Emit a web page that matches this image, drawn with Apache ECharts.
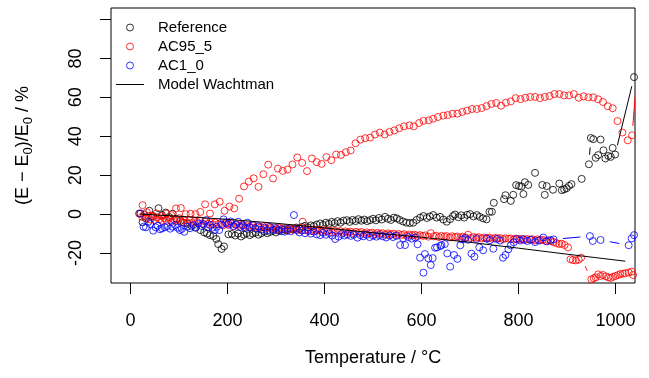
<!DOCTYPE html>
<html lang="en">
  <head>
    <meta charset="UTF-8" />
    <title>E modulus vs temperature</title>
    <style>
      html, body { margin: 0; padding: 0; background: #fff; }
      #main { width: 649px; height: 378px; }
    </style>
  </head>
  <body>
    <div id="main"></div>
    <script src="https://cdn.jsdelivr.net/npm/echarts@6/dist/echarts.min.js"></script>
    <script>
      // [temperature °C, (E-E0)/E0 %]
      const refPts = [
        [18, 0.3], [25, -4.2], [31, -2], [39, 1.7], [47, -1], [58, 3], [65, -0.5], [73, 0.8], [80, -1.5], [87, 0.2],
        [95, -2.5], [103, -3.5], [110, -4.5], [118, -5], [126, -6], [134, -7], [144, -8.2], [152, -9.4], [158, -10],
        [164, -10.8], [171, -11.3], [177, -12.8], [181, -15.4], [188, -17.9], [193, -16.6], [202, -10.4], [209, -10.2],
        [216, -11], [222, -10], [228, -11.5], [234, -10.6], [240, -9.8], [246, -10.8], [252, -10], [258, -9.5],
        [264, -10.6], [270, -9.8], [276, -9], [282, -9.8], [288, -9.2], [294, -8.6], [300, -9.4], [306, -8.2],
        [312, -8.8], [318, -7.8], [324, -8.4], [330, -7.4], [336, -7.9], [342, -6.9], [348, -7.5], [354, -6.6],
        [360, -6], [366, -6.8], [372, -5.8], [378, -6.2], [384, -5.4], [391, -4.8], [397, -5.6], [403, -4.4],
        [409, -5], [415, -4], [421, -4.6], [427, -3.6], [433, -4.4], [439, -3.4], [446, -3.1], [452, -4], [458, -3],
        [464, -3.6], [470, -2.6], [476, -3.4], [482, -2.8], [488, -3.6], [494, -3.1], [500, -2.4], [506, -3.2],
        [512, -2], [518, -2.8], [525, -1.4], [531, -2.4], [537, -3], [543, -1.8], [549, -2.2], [555, -3], [562, -3.8],
        [569, -4.4], [576, -4.6], [583, -4.4], [590, -3], [597, -1.8], [604, -1], [611, -2], [617, -1.2], [624, -0.5],
        [631, -1.8], [638, -1.4], [645, -2.8], [652, -3.9], [659, -2.6], [665, -1], [669, -0.2], [676, -1.6],
        [682, -0.6], [688, -1.8], [694, -0.4], [700, 0], [707, -1.2], [714, -0.5], [720, -1.4], [727, -2.2],
        [734, -2.7], [740, 1.2], [745, 1.2], [749, 5.8], [770, 7.7], [773, 9.7], [784, 6.8], [789, 9.9], [795, 14.9],
        [801, 14.4], [806, 14.2], [810, 10.3], [813, 16.4], [820, 15], [834, 21.2], [849, 15], [854, 9.9], [858, 14.4],
        [871, 12.5], [884, 15.7], [889, 12.3], [894, 12.7], [899, 13.3], [904, 14.5], [909, 15.4], [930, 18.1],
        [945, 25.6], [949, 39.1], [954, 38.5], [959, 28.9], [964, 30.3], [969, 38.3], [975, 32.8], [979, 28.6],
        [985, 29.9], [990, 29.4], [994, 34], [999, 30.6], [1038, 70.4]
      ];

      // AC95_5, heating run
      const ac95Heat = [
        [20, 0.3], [24, -1.4], [28, -0.2], [33, -2.3], [37, -0.9], [41, -2.8], [46, -1.5], [50, -3.1], [55, -1.7],
        [60, -2.6], [65, -3.4], [70, -2], [75, -3.5], [80, -2.3], [85, -3.9], [90, -2.8], [96, -3.3], [101, -2.1],
        [106, -4], [111, -3.1], [117, -4.3], [122, -3], [127, -4.6], [132, -3.6], [138, -4.1], [143, -3.2],
        [148, -4.8], [154, -3.9], [159, -5.1], [164, -4.2], [170, -5.4], [175, -4.4], [181, -5.2], [186, -4.6],
        [191, -5.8], [197, -4.9], [202, -5.6], [208, -5], [213, -6.2], [219, -5.3], [224, -6], [230, -5.5],
        [235, -6.6], [241, -5.8], [246, -6.4], [252, -5.9], [257, -7], [263, -6.1], [268, -6.9], [274, -6.3],
        [279, -7.4], [285, -6.6], [290, -7.2], [296, -6.8], [301, -7.8], [307, -7], [312, -7.6], [318, -7.1],
        [323, -8.1], [329, -7.3], [334, -7.9], [340, -7.5], [345, -8.4], [350, -7.6], [355, -3.9], [361, -8.2],
        [366, -7.8], [372, -8.7], [377, -8], [383, -8.5], [388, -8.1], [394, -9], [399, -8.3], [405, -8.8],
        [410, -8.4], [416, -9.3], [421, -8.6], [427, -9.1], [432, -8.7], [438, -9.6], [443, -8.9], [449, -9.4],
        [454, -9], [460, -9.8], [465, -9.1], [471, -9.6], [476, -9.2], [482, -10.1], [487, -9.4], [493, -9.9],
        [498, -9.5], [504, -10.3], [509, -9.6], [515, -10.1], [520, -9.8], [526, -10.6], [531, -9.9], [537, -10.4],
        [542, -10], [548, -10.8], [553, -10.2], [559, -10.7], [564, -10.3], [570, -11.1], [575, -10.5],
        [581, -10.9], [586, -10.6], [592, -11.3], [597, -10.8], [603, -11.2], [608, -10.9], [614, -11.6],
        [619, -9.8], [625, -11.4], [630, -11.1], [636, -11.8], [641, -11.2], [647, -11.6], [652, -11.3],
        [658, -12], [663, -11.4], [669, -11.8], [674, -11.5], [680, -12.2], [685, -11.6], [691, -12],
        [696, -10.6], [702, -12.3], [707, -11.8], [713, -12.1], [718, -11.9], [724, -12.5], [729, -12],
        [735, -12.3], [740, -12.1], [746, -12.7], [751, -12.2], [757, -12.5], [762, -12.3], [768, -12.9],
        [773, -12.4], [779, -12.7], [784, -12.5], [790, -13.1], [795, -12.6], [801, -12.9], [806, -12.7],
        [812, -13.3], [817, -12.8], [823, -13.1], [828, -12.9], [834, -13.5], [839, -13], [845, -13.4],
        [850, -13.2], [856, -13.8], [861, -13.4], [867, -13.9], [872, -14.4], [878, -14.9], [884, -15.4],
        [889, -15.2], [895, -15.9], [902, -17.1], [907, -23.2], [912, -23.6], [918, -23.8], [924, -23.4],
        [929, -22.4], [950, -33.5], [955, -33], [959, -32.5], [964, -31], [969, -31.8], [974, -31.3], [980, -32],
        [985, -32.5], [990, -32.8], [995, -32.2], [1000, -31.8], [1005, -31.3], [1010, -30.8], [1015, -30.6],
        [1020, -30.4], [1027, -30], [1033, -29.6], [1036, -31.3]
      ];

      // AC95_5, cooling run
      const ac95Cool = [
        [1044, 72], [1034, 40.5], [1025, 37.9], [1014, 41.9], [1004, 47.8], [994, 54.4], [984, 55.4], [974, 57.6],
        [964, 59], [954, 60], [944, 60], [934, 60.5], [924, 59.8], [914, 61.7], [904, 61], [894, 61], [884, 61.7],
        [874, 61.7], [864, 60.7], [854, 60.2], [844, 59.6], [834, 60.2], [824, 60.2], [814, 59.8], [804, 59.1],
        [794, 59.6], [784, 57.9], [774, 57.3], [764, 55.7], [754, 57.1], [744, 56.6], [734, 55.5], [724, 54.5],
        [714, 54], [704, 54], [694, 53.2], [684, 52.5], [674, 51.6], [664, 51.6], [654, 50.9], [645, 50.6],
        [634, 49.9], [624, 49], [615, 48.2], [604, 47.9], [595, 46.8], [584, 45.1], [575, 45.6], [564, 45.1],
        [554, 44.1], [544, 43], [534, 42.2], [524, 40.9], [514, 41.9], [504, 40.9], [494, 39.3], [484, 39],
        [474, 38.3], [464, 36.4], [454, 32.7], [444, 31.8], [434, 30.4], [424, 30.6], [414, 27.7], [404, 29.3],
        [394, 25.8], [384, 26.7], [374, 28.6], [364, 22.1], [354, 26.3], [344, 29.1], [334, 25.5], [324, 22.9],
        [314, 22.2], [304, 23.4], [294, 18.3], [284, 25.4], [274, 20.5], [264, 14], [254, 18.4], [244, 16.7],
        [234, 14.2], [224, 7.9], [214, 2.9], [204, 3.9], [194, 1.7], [184, 6.4], [174, 5], [164, 0.3], [154, 5],
        [144, 1.1], [134, 0], [124, 0.2], [114, 0], [104, 3.1], [94, 2.9], [84, -0.5], [74, 0.2], [64, -1],
        [54, 0.4], [44, -0.8], [34, 1], [25, 4.6]
      ];

      const ac1Pts = [
        [21, 0.3], [27, -6.5], [32, -6.8], [37, -4], [41, -5.1], [47, -8.5], [52, -6.8], [56, -6], [61, -7.8],
        [65, -7.3], [71, -6.8], [76, -6.2], [82, -7.5], [87, -6.5], [92, -5.6], [97, -7], [102, -8.2], [106, -7.6],
        [111, -9.1], [117, -6.5], [123, -7.2], [130, -5.6], [135, -6.8], [140, -4.8], [146, -6], [151, -5.2],
        [156, -3.1], [160, -6.8], [164, -5.6], [169, -7], [174, -8.2], [178, -6.5], [183, -8.2], [188, -5.4],
        [192, -2.7], [197, -4.2], [202, -5], [207, -3.8], [212, -6.2], [217, -5.4], [222, -3.9], [227, -6.6],
        [232, -5.8], [237, -7.2], [241, -4.4], [246, -6.8], [253, -5.6], [258, -7.4], [264, -6.4], [270, -8],
        [276, -7], [282, -8.4], [288, -6.6], [294, -8], [300, -7.2], [306, -8.6], [312, -7.8], [318, -9],
        [324, -7.6], [330, -8.8], [337, -0.5], [342, -8], [348, -9.4], [354, -8.4], [360, -9.8], [366, -8.6],
        [372, -10], [378, -9], [384, -10.4], [391, -10.8], [397, -9.6], [403, -10.6], [410, -9.8], [416, -11],
        [422, -12.8], [429, -11.6], [435, -10.2], [441, -11], [447, -10.4], [454, -11.2], [460, -10.6],
        [468, -12.1], [474, -10.8], [480, -11.4], [487, -10.6], [493, -11.8], [500, -11], [507, -11.6],
        [513, -10.8], [520, -11.4], [527, -12], [534, -11], [541, -11.8], [548, -11.2], [556, -15.9], [562, -12.4],
        [566, -15.9], [573, -11.8], [580, -12.6], [587, -12], [592, -15.5], [597, -22.4], [604, -30.1],
        [607, -20.5], [614, -22.7], [619, -26.2], [623, -22.6], [628, -17.3], [632, -17.1], [639, -16.4],
        [641, -15.9], [648, -15.4], [653, -20.2], [659, -27], [667, -21], [674, -23], [680, -16], [684, -13],
        [690, -12.4], [696, -13.2], [703, -20.3], [709, -21.9], [713, -12.8], [719, -17.1], [727, -18.6],
        [734, -12.6], [741, -13.4], [748, -17.8], [755, -12.8], [762, -13.6], [768, -22.4], [773, -21],
        [779, -18.1], [784, -16.1], [790, -14.5], [796, -12.8], [803, -13.6], [810, -12.9], [818, -13.8],
        [826, -13.2], [834, -14.4], [842, -13.6], [851, -12], [858, -14], [866, -13.4], [872, -13], [947, -11.3],
        [953, -13.8], [969, -13.3], [1027, -16], [1033, -12.5], [1038, -10.8]
      ];

      const modelPts = [
        [20, 0], [100, -1.1], [200, -2.7], [300, -4.7], [400, -7.1], [500, -9.6], [600, -11.9],
        [700, -14.5], [800, -17.5], [900, -20.6], [1020, -24.2]
      ];

      const xTicks = [0, 200, 400, 600, 800, 1000];
      const yTicks = [-20, 0, 20, 40, 60, 80, 100];
      const yLabels = [-20, 0, 20, 40, 60, 80];

      const FONT = "'Liberation Sans', Arial, Helvetica, sans-serif";
      const GAP = 9.5; // R type="b" gap around points, px

      const myChart = echarts.init(document.getElementById("main"), null, { renderer: "canvas" });

      // line segments between consecutive points, cut back near each point like R's type="b"
      function gapLines(name, runs, color) {
        const segs = [];
        runs.forEach((run) => {
          for (let i = 1; i < run.length; i++) {
            segs.push([run[i - 1][0], run[i - 1][1], run[i][0], run[i][1]]);
          }
        });
        return {
          type: "custom",
          name: name,
          data: segs,
          clip: true,
          silent: true,
          encode: { x: [0, 2], y: [1, 3] },
          renderItem: function (params, api) {
            const a = api.coord([api.value(0), api.value(1)]);
            const b = api.coord([api.value(2), api.value(3)]);
            const dx = b[0] - a[0];
            const dy = b[1] - a[1];
            const d = Math.sqrt(dx * dx + dy * dy);
            if (d <= 2 * GAP) return null;
            const ux = dx / d;
            const uy = dy / d;
            return {
              type: "line",
              shape: { x1: a[0] + ux * GAP, y1: a[1] + uy * GAP, x2: b[0] - ux * GAP, y2: b[1] - uy * GAP },
              style: { stroke: color, lineWidth: 1 },
            };
          },
        };
      }

      function points(name, data, color) {
        return {
          type: "scatter",
          name: name,
          data: data,
          symbol: "circle",
          symbolSize: 7,
          clip: true,
          silent: true,
          itemStyle: { color: "rgba(255,255,255,0)", borderColor: color, borderWidth: 1 },
        };
      }

      function legendCircle(name, color) {
        return {
          name: name,
          icon: "circle",
          itemStyle: { color: "rgba(255,255,255,0)", borderColor: color, borderWidth: 1 },
        };
      }

      const option = {
        animation: false,
        textStyle: { fontFamily: FONT, color: "#000" },
        grid: {
          left: 111, right: 14, top: 8, bottom: 95,
          show: true, borderColor: "#000", borderWidth: 1, backgroundColor: "transparent",
        },
        legend: {
          data: [
            legendCircle("Reference", "#000000"),
            legendCircle("AC95_5", "#ff0000"),
            legendCircle("AC1_0", "#0000ff"),
            { name: "Model Wachtman", icon: "path://M0,0H28V1H0Z", itemStyle: { color: "#000", borderWidth: 0 } },
          ],
          orient: "vertical",
          left: 116,
          top: 20,
          padding: 0,
          itemWidth: 28,
          itemHeight: 7,
          itemGap: 4,
          selectedMode: false,
          textStyle: { fontFamily: FONT, fontSize: 15, color: "#000", padding: [0, 0, 0, 9] },
        },
        xAxis: {
          type: "value",
          min: -40,
          max: 1040,
          name: "Temperature / °C",
          nameLocation: "middle",
          nameGap: 66,
          nameTextStyle: { fontFamily: FONT, fontSize: 18, color: "#000" },
          axisLine: { show: false, onZero: false },
          axisTick: { show: true, inside: false, length: 11, customValues: xTicks, lineStyle: { color: "#000" } },
          axisLabel: {
            customValues: xTicks, fontSize: 18, color: "#000", margin: 29, fontFamily: FONT,
            formatter: (v) => String(v),
          },
          splitLine: { show: false },
        },
        yAxis: {
          type: "value",
          min: -35.4,
          max: 105.9,
          name: "(E − E{s|0})/E{s|0} / %",
          nameLocation: "middle",
          nameRotate: 90,
          nameGap: 76,
          nameTextStyle: {
            fontFamily: FONT, fontSize: 18, color: "#000", lineHeight: 24,
            rich: { s: { fontFamily: FONT, fontSize: 13, lineHeight: 14, verticalAlign: "bottom", color: "#000" } },
          },
          axisLine: { show: false, onZero: false },
          axisTick: { show: true, inside: false, length: 11, customValues: yTicks, lineStyle: { color: "#000" } },
          axisLabel: {
            customValues: yLabels, rotate: 90, fontSize: 18, color: "#000", margin: 26, fontFamily: FONT,
            formatter: (v) => String(v),
          },
          splitLine: { show: false },
        },
        series: [
          points("Reference", refPts, "#000000"),
          points("AC95_5", ac95Heat.concat(ac95Cool), "#ff0000"),
          points("AC1_0", ac1Pts, "#0000ff"),
          gapLines("refGaps", [refPts], "#000000"),
          gapLines("ac95Gaps", [ac95Heat, ac95Cool], "#ff0000"),
          gapLines("ac1Gaps", [ac1Pts], "#0000ff"),
          {
            type: "line",
            name: "Model Wachtman",
            data: modelPts,
            symbol: "none",
            silent: true,
            lineStyle: { color: "#000", width: 1 },
            itemStyle: { color: "#000" },
          },
        ],
      };

      myChart.setOption(option);
    </script>
  </body>
</html>
